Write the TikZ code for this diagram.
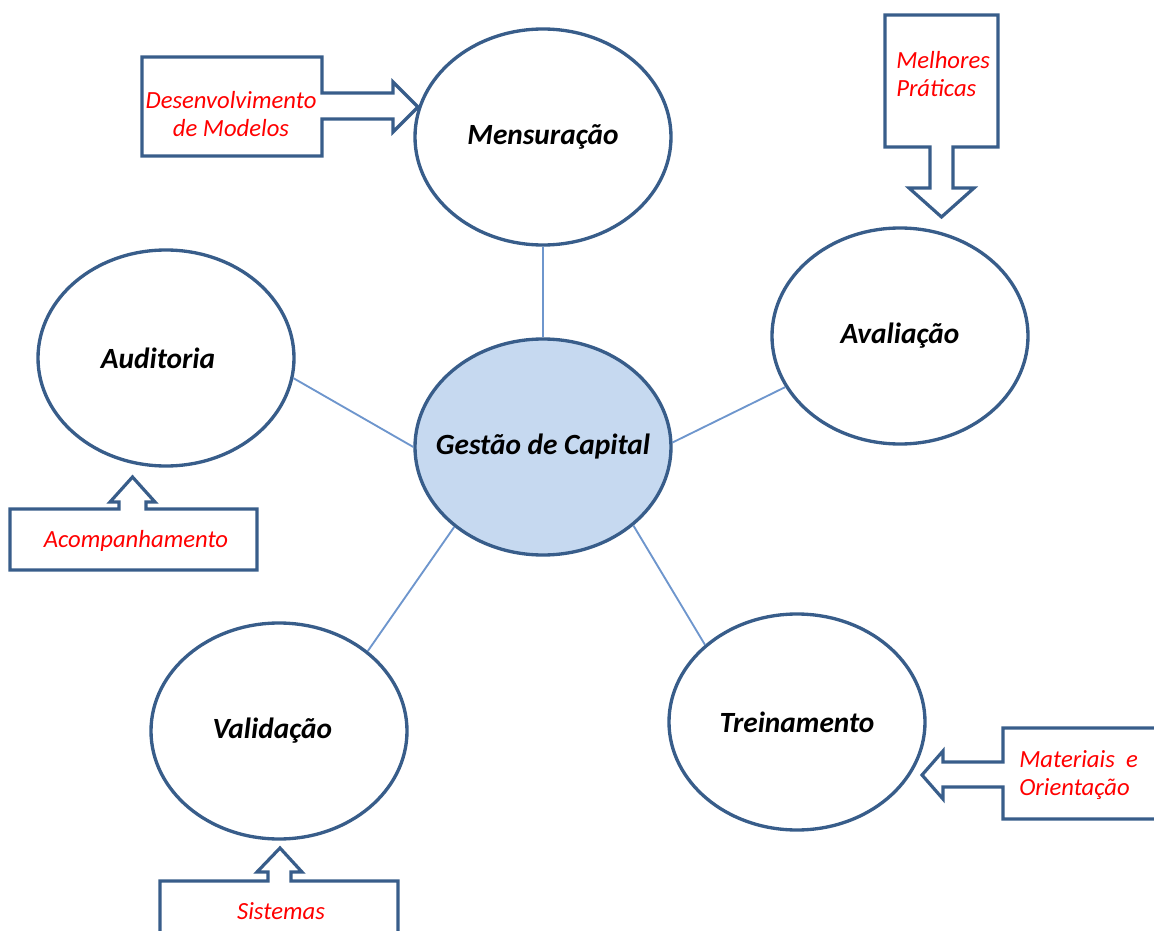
\documentclass[tikz,border=0pt]{standalone}
\usepackage{fontspec}
\setmainfont{Carlito}
\usepackage{tikz}
\usetikzlibrary{shapes.geometric}
\definecolor{edgeblue}{RGB}{56,93,138}
\definecolor{linkblue}{RGB}{110,150,205}
\definecolor{corefill}{RGB}{198,217,240}
\tikzset{
  topic/.style={
      draw=edgeblue,
      fill=white,
      ellipse,
      line width=2.5pt,
      minimum width=192pt,
      minimum height=162pt,
      inner sep=-22pt,
      font=\fontsize{22}{26}\selectfont\bfseries\itshape
  },
  core/.style={topic, fill=corefill},
  callout/.style={
      draw=edgeblue,
      fill=white,
      line width=2.4pt,
      line join=miter
  },
  note/.style={
      text=red,
      inner sep=0pt,
      font=\fontsize{18.5}{21}\selectfont\itshape
  },
  link/.style={draw=linkblue, line width=1.4pt}
}

\begin{document}
\begin{tikzpicture}[x=0.75pt, y=-0.75pt]
      \useasboundingbox (0,0) rectangle (1154,931);
      \clip (0,0) rectangle (1154,931);

      % Callout boxes
      \draw[callout] (142,57) -- (322,57) -- (322,93) -- (393,93) -- (393,82) -- (418,107)
        -- (393,132) -- (393,119) -- (322,119) -- (322,156) -- (142,156) -- cycle;
      \draw[callout] (885,15) -- (998,15) -- (998,147) -- (953,147) -- (953,188) -- (974,188)
        -- (941.5,217) -- (909,188) -- (930,188) -- (930,147) -- (885,147) -- cycle;
      \draw[callout] (10,509) -- (119,509) -- (119,502) -- (110,502) -- (132.5,477) -- (155,502)
        -- (146,502) -- (146,509) -- (257,509) -- (257,570) -- (10,570) -- cycle;
      \draw[callout] (1170,728) -- (1003,728) -- (1003,762) -- (943,762) -- (943,751) -- (922,775)
        -- (943,799) -- (943,787) -- (1003,787) -- (1003,819) -- (1170,819);
      \draw[callout] (160,945) -- (160,881) -- (268,881) -- (268,872) -- (257,872) -- (280,848)
        -- (302,872) -- (291,872) -- (291,881) -- (398,881) -- (398,945);

      % Callout texts
      \node (modelos) [note, align=center] at (231,114) {Desenvolvimento\\de Modelos};
      \node (praticas) [note, align=left, anchor=west] at (896,74) {Melhores\\Práticas};
      \node (acomp) [note] at (136,541) {Acompanhamento};
      \node (materiais) [note, align=left, anchor=west] at (1019,775) {Materiais\ \ e\\Orientação};
      \node (sistemas) [note] at (281,911) {Sistemas};

      % Topics
      \node (mens) [topic] at (543,137) {Mensuração};
      \node (aval) [topic] at (900,336) {Avaliação};
      \node (audi) [topic] at (166,358) {\hspace{-12pt}Auditoria};
      \node (gest) [core] at (543,447) {Gestão de Capital};
      \node (vali) [topic] at (279,731) {\hspace{-10pt}Validação};
      \node (trei) [topic] at (797,722) {Treinamento};

      % Connections
      \draw[link] (mens.270) -- (gest.90);
      \draw[link] (audi.-9) -- (gest.180);
      \draw[link] (gest.2) -- (aval.204);
      \draw[link] (gest.222) -- (vali.42);
      \draw[link] (gest.319) -- (trei.140);
\end{tikzpicture}
\end{document}
